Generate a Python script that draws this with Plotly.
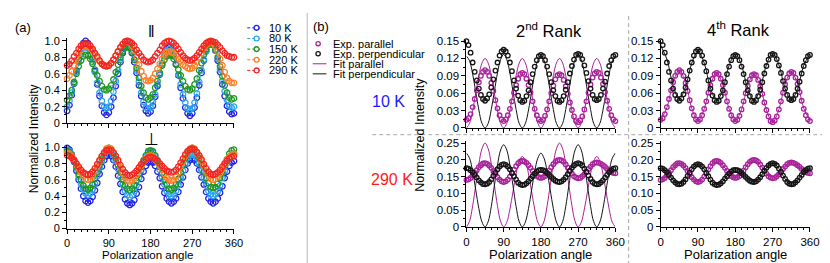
import plotly.graph_objects as go

# ---------------- data ----------------
ANGLES = list(range(0, 361, 5))                 # measured polarization angles (deg)
FIT2_ANGLES = [i * 7.5 for i in range(49)]       # sampling of the 2nd-rank fit curves
FIT4_ANGLES = list(range(0, 361, 15))            # sampling of the 4th-rank fit curves
ANGLE_TICKS = [0, 90, 180, 270, 360]

TEMPS = ["10 K", "80 K", "150 K", "220 K", "290 K"]

# panel (a), parallel configuration
A_PAR_10K = [0.15,0.22,0.34,0.48,0.64,0.78,0.90,0.97,1.00, 0.97,0.89,0.78,0.63,0.47,0.33,0.21,0.13,0.10,
             0.13,0.20,0.31,0.45,0.60,0.74,0.85,0.92,0.95, 0.92,0.85,0.74,0.61,0.46,0.33,0.22,0.15,0.12,
             0.14,0.21,0.32,0.45,0.59,0.72,0.83,0.90,0.92, 0.89,0.82,0.71,0.58,0.43,0.30,0.19,0.12,0.09,
             0.12,0.19,0.31,0.46,0.61,0.76,0.88,0.95,0.98, 0.95,0.88,0.76,0.62,0.47,0.33,0.21,0.14,0.11, 0.12]
A_PAR_80K = [0.20,0.27,0.37,0.49,0.62,0.74,0.84,0.91,0.93, 0.91,0.84,0.74,0.62,0.49,0.37,0.27,0.20,0.18,
             0.20,0.27,0.38,0.51,0.64,0.77,0.88,0.95,0.97, 0.95,0.88,0.77,0.64,0.50,0.37,0.26,0.19,0.17,
             0.19,0.26,0.35,0.47,0.60,0.72,0.81,0.88,0.90, 0.88,0.81,0.72,0.59,0.47,0.35,0.25,0.18,0.16,
             0.18,0.25,0.36,0.50,0.64,0.77,0.87,0.95,0.97, 0.95,0.88,0.78,0.65,0.51,0.39,0.28,0.21,0.19, 0.20]
A_PAR_150K = [0.28,0.33,0.40,0.50,0.60,0.69,0.76,0.81,0.83, 0.82,0.78,0.72,0.65,0.58,0.51,0.45,0.41,0.40,
              0.42,0.46,0.53,0.62,0.71,0.80,0.87,0.91,0.93, 0.91,0.86,0.77,0.67,0.55,0.45,0.37,0.31,0.29,
              0.31,0.35,0.43,0.51,0.61,0.70,0.77,0.81,0.83, 0.82,0.78,0.72,0.65,0.58,0.51,0.45,0.41,0.40,
              0.42,0.47,0.54,0.64,0.73,0.83,0.90,0.95,0.97, 0.95,0.89,0.80,0.69,0.57,0.46,0.37,0.31,0.29, 0.30]
A_PAR_220K = [0.54,0.58,0.63,0.70,0.77,0.84,0.89,0.93,0.94, 0.93,0.91,0.88,0.84,0.79,0.75,0.72,0.70,0.69,
              0.70,0.73,0.77,0.82,0.87,0.92,0.96,0.99,1.00, 0.98,0.94,0.88,0.80,0.71,0.63,0.57,0.52,0.51,
              0.52,0.55,0.60,0.66,0.72,0.78,0.83,0.86,0.87, 0.86,0.85,0.82,0.78,0.75,0.71,0.69,0.67,0.66,
              0.67,0.70,0.74,0.80,0.85,0.91,0.95,0.98,0.99, 0.97,0.93,0.87,0.78,0.70,0.62,0.55,0.51,0.49, 0.49]
A_PAR_290K = [0.70,0.72,0.76,0.81,0.85,0.90,0.94,0.96,0.97, 0.96,0.94,0.90,0.85,0.81,0.76,0.72,0.70,0.69,
              0.70,0.73,0.77,0.82,0.87,0.92,0.96,0.99,1.00, 0.99,0.97,0.94,0.89,0.85,0.81,0.77,0.75,0.74,
              0.75,0.77,0.81,0.85,0.89,0.94,0.97,0.99,1.00, 0.99,0.97,0.94,0.90,0.86,0.82,0.79,0.77,0.76,
              0.77,0.79,0.82,0.86,0.90,0.94,0.97,0.99,1.00, 0.99,0.98,0.95,0.92,0.88,0.85,0.82,0.81,0.80, 0.80]

# panel (a), perpendicular configuration
A_PERP_10K = [0.99, 0.97,0.91,0.82,0.71,0.60,0.49,0.40,0.34,0.32, 0.34,0.39,0.47,0.56,0.67,0.76,0.84,0.89,0.91,
              0.89,0.84,0.76,0.65,0.55,0.45,0.36,0.31,0.29, 0.31,0.35,0.43,0.51,0.61,0.70,0.77,0.81,0.83,
              0.81,0.77,0.70,0.62,0.52,0.44,0.37,0.33,0.31, 0.33,0.37,0.45,0.54,0.63,0.72,0.80,0.84,0.86,
              0.84,0.80,0.72,0.63,0.54,0.45,0.37,0.33,0.31, 0.33,0.37,0.44,0.52,0.62,0.70,0.77,0.81,0.83]
A_PERP_80K = [0.97, 0.95,0.90,0.83,0.74,0.64,0.55,0.48,0.43,0.41, 0.43,0.48,0.55,0.64,0.74,0.83,0.90,0.95,0.97,
              0.95,0.90,0.83,0.73,0.63,0.54,0.46,0.41,0.39, 0.41,0.46,0.53,0.62,0.72,0.81,0.88,0.93,0.95,
              0.93,0.89,0.81,0.72,0.63,0.54,0.46,0.42,0.40, 0.42,0.46,0.53,0.62,0.71,0.80,0.87,0.91,0.93,
              0.91,0.87,0.80,0.71,0.62,0.53,0.46,0.42,0.40, 0.42,0.46,0.53,0.62,0.71,0.80,0.87,0.91,0.93]
A_PERP_150K = [0.95, 0.94,0.90,0.83,0.76,0.67,0.60,0.53,0.49,0.48, 0.50,0.54,0.61,0.69,0.78,0.86,0.93,0.97,0.99,
               0.97,0.93,0.86,0.78,0.69,0.60,0.53,0.49,0.47, 0.49,0.53,0.59,0.67,0.76,0.84,0.90,0.95,0.96,
               0.95,0.90,0.84,0.76,0.68,0.60,0.54,0.49,0.48, 0.50,0.54,0.61,0.69,0.78,0.86,0.93,0.97,0.99,
               0.97,0.93,0.87,0.79,0.70,0.62,0.56,0.51,0.50, 0.51,0.55,0.62,0.69,0.78,0.85,0.92,0.96,0.97]
A_PERP_220K = [0.93, 0.92,0.89,0.85,0.79,0.74,0.68,0.64,0.61,0.60, 0.61,0.65,0.70,0.76,0.83,0.89,0.94,0.98,0.99,
               0.98,0.94,0.89,0.82,0.75,0.68,0.63,0.59,0.58, 0.59,0.62,0.66,0.71,0.77,0.82,0.86,0.89,0.90,
               0.89,0.86,0.82,0.77,0.72,0.67,0.63,0.60,0.59, 0.60,0.64,0.69,0.76,0.82,0.89,0.94,0.98,0.99,
               0.98,0.94,0.89,0.83,0.76,0.70,0.65,0.61,0.60, 0.61,0.64,0.68,0.73,0.79,0.84,0.88,0.91,0.92]
A_PERP_290K = [0.90, 0.89,0.87,0.84,0.80,0.76,0.72,0.69,0.67,0.66, 0.67,0.70,0.74,0.79,0.84,0.89,0.93,0.96,0.97,
               0.96,0.93,0.89,0.84,0.78,0.73,0.69,0.66,0.65, 0.66,0.68,0.71,0.75,0.79,0.82,0.85,0.87,0.88,
               0.87,0.86,0.83,0.80,0.77,0.74,0.71,0.70,0.69, 0.70,0.72,0.76,0.81,0.86,0.91,0.95,0.97,0.98,
               0.97,0.94,0.90,0.85,0.79,0.74,0.70,0.67,0.66, 0.67,0.69,0.72,0.76,0.80,0.83,0.86,0.88,0.89]

# panel (b) experimental data
B_PAR_10K = [0.014, 0.017,0.024,0.036,0.050,0.065,0.079,0.090,0.097,0.100, 0.097,0.090,0.078,0.064,0.048,0.034,0.022,0.015,0.012,
             0.015,0.022,0.033,0.046,0.061,0.074,0.085,0.093,0.095, 0.093,0.085,0.074,0.061,0.046,0.033,0.022,0.015,0.012,
             0.014,0.021,0.032,0.046,0.060,0.073,0.084,0.091,0.093, 0.091,0.083,0.072,0.059,0.044,0.031,0.020,0.012,0.010,
             0.013,0.020,0.032,0.046,0.061,0.075,0.087,0.094,0.097, 0.095,0.087,0.076,0.062,0.047,0.033,0.022,0.015,0.012]
B_PERP_10K = [0.150, 0.143,0.130,0.113,0.097,0.082,0.068,0.057,0.050,0.047, 0.051,0.058,0.070,0.084,0.099,0.113,0.125,0.132,0.135,
              0.132,0.125,0.113,0.098,0.082,0.068,0.056,0.048,0.045, 0.047,0.055,0.065,0.079,0.093,0.106,0.117,0.124,0.126,
              0.124,0.117,0.106,0.093,0.079,0.065,0.055,0.047,0.045, 0.048,0.055,0.066,0.079,0.094,0.107,0.118,0.126,0.128,
              0.126,0.119,0.108,0.095,0.081,0.068,0.057,0.050,0.048, 0.050,0.057,0.068,0.080,0.094,0.107,0.117,0.124,0.126]
B_PAR_290K = [0.140, 0.142,0.146,0.153,0.161,0.169,0.178,0.184,0.189,0.190, 0.188,0.183,0.176,0.167,0.157,0.148,0.141,0.136,0.134,
              0.136,0.141,0.150,0.160,0.171,0.181,0.190,0.195,0.197, 0.195,0.191,0.184,0.176,0.167,0.159,0.152,0.148,0.146,
              0.148,0.152,0.160,0.168,0.178,0.187,0.194,0.198,0.200, 0.198,0.194,0.186,0.177,0.168,0.159,0.151,0.147,0.145,
              0.146,0.151,0.157,0.164,0.173,0.180,0.187,0.191,0.192, 0.191,0.188,0.184,0.179,0.173,0.168,0.164,0.161,0.160]
B_PERP_290K = [0.175, 0.174,0.169,0.163,0.155,0.147,0.139,0.133,0.128,0.127, 0.129,0.134,0.142,0.152,0.162,0.172,0.180,0.185,0.187,
               0.185,0.180,0.172,0.161,0.151,0.141,0.132,0.127,0.125, 0.126,0.130,0.136,0.144,0.151,0.159,0.165,0.169,0.170,
               0.169,0.166,0.161,0.155,0.149,0.143,0.138,0.135,0.134, 0.136,0.141,0.148,0.157,0.167,0.176,0.183,0.188,0.190,
               0.188,0.183,0.174,0.164,0.153,0.143,0.134,0.129,0.127, 0.128,0.133,0.139,0.147,0.155,0.163,0.169,0.174,0.175]

# panel (b) 2nd-rank fit curves
FIT2_PAR_10K = [0.000,0.008,0.030,0.060,0.090,0.112,0.120,0.112,0.090,0.060,0.030,0.008,
                0.000,0.008,0.030,0.060,0.090,0.112,0.120,0.112,0.090,0.060,0.030,0.008,
                0.000,0.008,0.030,0.060,0.090,0.112,0.120,0.112,0.090,0.060,0.030,0.008,
                0.000,0.008,0.030,0.060,0.090,0.112,0.120,0.112,0.090,0.060,0.030,0.008, 0.000]
FIT2_PERP_10K = [0.124,0.116,0.093,0.062,0.031,0.008,0.000,0.008,0.032,0.063,0.095,0.118,
                 0.127,0.118,0.095,0.063,0.032,0.008,0.000,0.008,0.031,0.063,0.094,0.117,
                 0.125,0.117,0.094,0.063,0.032,0.008,0.000,0.008,0.032,0.063,0.095,0.118,
                 0.127,0.118,0.095,0.063,0.032,0.008,0.000,0.008,0.031,0.062,0.093,0.116, 0.124]
FIT2_PAR_290K = [0.000,0.017,0.063,0.125,0.188,0.233,0.250,0.233,0.188,0.125,0.063,0.017,
                 0.000,0.014,0.053,0.105,0.158,0.196,0.210,0.196,0.158,0.105,0.053,0.014,
                 0.000,0.017,0.063,0.125,0.188,0.233,0.250,0.233,0.188,0.125,0.063,0.017,
                 0.000,0.014,0.053,0.105,0.158,0.196,0.210,0.196,0.158,0.105,0.053,0.014, 0.000]
FIT2_PERP_290K = [0.220,0.205,0.165,0.110,0.055,0.015,0.000,0.016,0.061,0.123,0.184,0.229,
                  0.245,0.229,0.184,0.123,0.061,0.016,0.000,0.015,0.055,0.110,0.165,0.205,
                  0.220,0.205,0.165,0.110,0.055,0.015,0.000,0.016,0.061,0.123,0.184,0.229,
                  0.245,0.229,0.184,0.123,0.061,0.016,0.000,0.015,0.055,0.110,0.165,0.205, 0.220]

# panel (b) 4th-rank fit curves
FIT4_PAR_10K = [0.013,0.035,0.078,0.100,0.078,0.034,0.012,0.033,0.074,0.095,0.074,0.033,0.012,
                0.032,0.073,0.093,0.072,0.031,0.010,0.032,0.075,0.097,0.076,0.034,0.013]
FIT4_PERP_10K = [0.142,0.119,0.073,0.050,0.071,0.112,0.133,0.112,0.069,0.047,0.067,0.108,0.128,
                 0.108,0.067,0.047,0.068,0.109,0.129,0.109,0.068,0.048,0.068,0.108,0.128]
FIT4_PAR_290K = [0.140,0.153,0.178,0.190,0.176,0.148,0.134,0.150,0.181,0.197,0.184,0.159,0.146,
                 0.160,0.187,0.200,0.186,0.159,0.145,0.157,0.180,0.192,0.184,0.168,0.160]
FIT4_PERP_290K = [0.176,0.164,0.140,0.128,0.143,0.172,0.187,0.172,0.141,0.126,0.137,0.159,0.170,
                  0.161,0.143,0.134,0.148,0.176,0.190,0.174,0.143,0.127,0.139,0.163,0.175]

A_PAR = [A_PAR_10K, A_PAR_80K, A_PAR_150K, A_PAR_220K, A_PAR_290K]
A_PERP = [A_PERP_10K, A_PERP_80K, A_PERP_150K, A_PERP_220K, A_PERP_290K]

# ---------------- styling ----------------
W, H = 830, 263
FONT = "Liberation Sans, Arial, Helvetica, sans-serif"
T_COLORS = ["#1f22e6", "#2aa6ee", "#1f961f", "#ff7e26", "#f42323"]
MAG = "#a8219a"
BLK = "#141414"


def px(x):
    return x / W


def py(y):
    return 1 - y / H


fig = go.Figure()

# panel (a)
for vals, name, col in zip(A_PAR, TEMPS, T_COLORS):
    fig.add_trace(go.Scatter(x=ANGLES, y=vals, name=name, mode="lines+markers", xaxis="x", yaxis="y",
                             line=dict(color=col, width=0.8, dash="dash"),
                             marker=dict(symbol="circle-open", size=5.5, color=col, line=dict(width=1.3)),
                             cliponaxis=False, showlegend=False))
for vals, name, col in zip(A_PERP, TEMPS, T_COLORS):
    fig.add_trace(go.Scatter(x=ANGLES, y=vals, name=name, mode="lines+markers", xaxis="x2", yaxis="y2",
                             line=dict(color=col, width=0.8, dash="dash"),
                             marker=dict(symbol="circle-open", size=5.5, color=col, line=dict(width=1.3)),
                             cliponaxis=False, showlegend=False))

# panel (b)
panels = [
    ("x3", "y3", FIT2_ANGLES, FIT2_PAR_10K, FIT2_PERP_10K, B_PAR_10K, B_PERP_10K),
    ("x4", "y4", FIT2_ANGLES, FIT2_PAR_290K, FIT2_PERP_290K, B_PAR_290K, B_PERP_290K),
    ("x5", "y5", FIT4_ANGLES, FIT4_PAR_10K, FIT4_PERP_10K, B_PAR_10K, B_PERP_10K),
    ("x6", "y6", FIT4_ANGLES, FIT4_PAR_290K, FIT4_PERP_290K, B_PAR_290K, B_PERP_290K),
]
for xa, ya, fx, fpar, fperp, dpar, dperp in panels:
    fig.add_trace(go.Scatter(x=fx, y=fpar, mode="lines", xaxis=xa, yaxis=ya, name="Fit parallel",
                             line=dict(color=MAG, width=1, shape="spline"), cliponaxis=False, showlegend=False))
    fig.add_trace(go.Scatter(x=fx, y=fperp, mode="lines", xaxis=xa, yaxis=ya, name="Fit perpendicular",
                             line=dict(color=BLK, width=1, shape="spline"), cliponaxis=False, showlegend=False))
    fig.add_trace(go.Scatter(x=ANGLES, y=dpar, mode="markers", xaxis=xa, yaxis=ya, name="Exp. parallel",
                             marker=dict(symbol="circle-open", size=4.5, color=MAG, line=dict(width=1.3)),
                             cliponaxis=False, showlegend=False))
    fig.add_trace(go.Scatter(x=ANGLES, y=dperp, mode="markers", xaxis=xa, yaxis=ya, name="Exp. perpendicular",
                             marker=dict(symbol="circle-open", size=4.5, color=BLK, line=dict(width=1.3)),
                             cliponaxis=False, showlegend=False))


def xaxis(domain, anchor, labels, size):
    return dict(domain=domain, anchor=anchor, range=[0, 360], tickmode="array", tickvals=ANGLE_TICKS,
                ticktext=[str(t) for t in ANGLE_TICKS], showticklabels=labels, ticks="outside", ticklen=4,
                tickwidth=1, tickcolor="black", showline=True, linecolor="black", linewidth=1, showgrid=False,
                zeroline=False, tickfont=dict(family=FONT, size=size, color="black"),
                minor=dict(tickmode="array", tickvals=list(range(0, 361, 15)), ticks="outside", ticklen=2,
                           tickwidth=1, tickcolor="black", showgrid=False))


def yaxis(domain, anchor, rng, tickvals, ticktext, minor_vals, size):
    return dict(domain=domain, anchor=anchor, range=rng, tickmode="array", tickvals=tickvals, ticktext=ticktext,
                ticks="outside", ticklen=4, tickwidth=1, tickcolor="black", showline=True, linecolor="black",
                linewidth=1, showgrid=False, zeroline=False, tickfont=dict(family=FONT, size=size, color="black"),
                minor=dict(tickmode="array", tickvals=minor_vals, ticks="outside", ticklen=2, tickwidth=1,
                           tickcolor="black", showgrid=False))


A_YT = [0, 0.2, 0.4, 0.6, 0.8, 1.0]
A_YL = ["0", "0.2", "0.4", "0.6", "0.8", "1.0"]
A_YM = [i / 10 for i in range(11)]
B_TOP_T = [0, 0.03, 0.06, 0.09, 0.12, 0.15]
B_TOP_L = ["0", "0.03", "0.06", "0.09", "0.12", "0.15"]
B_TOP_M = [i * 0.015 for i in range(11)]
B_BOT_T = [0, 0.05, 0.10, 0.15, 0.20, 0.25]
B_BOT_L = ["0", "0.05", "0.10", "0.15", "0.20", "0.25"]
B_BOT_M = [i * 0.025 for i in range(11)]

xa_dom = [px(57), px(226.5)]
x2_dom = [px(462.7), px(614)]
x4_dom = [px(660), px(811.7)]
a_top = [py(115), py(115 - 86 * 1.03)]
a_bot = [py(225), py(225 - 85 * 1.03)]
b_top = [py(120), py(120 - 604.7 * 0.152)]
b_bot = [py(223.3), py(223.3 - 350.4 * 0.255)]

fig.update_layout(
    width=W, height=H, autosize=False, margin=dict(l=0, r=0, t=0, b=0),
    paper_bgcolor="white", plot_bgcolor="white", showlegend=False,
    font=dict(family=FONT, color="black"),
    xaxis=xaxis(xa_dom, "y", False, 11),
    yaxis=yaxis(a_top, "x", [0, 1.03], A_YT, A_YL, A_YM, 11),
    xaxis2=xaxis(xa_dom, "y2", True, 11),
    yaxis2=yaxis(a_bot, "x2", [0, 1.03], A_YT, A_YL, A_YM, 11),
    xaxis3=xaxis(x2_dom, "y3", False, 11.5),
    yaxis3=yaxis(b_top, "x3", [0, 0.152], B_TOP_T, B_TOP_L, B_TOP_M, 11.5),
    xaxis4=xaxis(x2_dom, "y4", True, 11.5),
    yaxis4=yaxis(b_bot, "x4", [0, 0.255], B_BOT_T, B_BOT_L, B_BOT_M, 11.5),
    xaxis5=xaxis(x4_dom, "y5", False, 11.5),
    yaxis5=yaxis(b_top, "x5", [0, 0.152], B_TOP_T, B_TOP_L, B_TOP_M, 11.5),
    xaxis6=xaxis(x4_dom, "y6", True, 11.5),
    yaxis6=yaxis(b_bot, "x6", [0, 0.255], B_BOT_T, B_BOT_L, B_BOT_M, 11.5),
)

ann = []


def text(x, y, s, size, color="black", xanchor="center", angle=0):
    ann.append(dict(x=px(x), y=py(y), xref="paper", yref="paper", text=s, showarrow=False, xanchor=xanchor,
                    yanchor="middle", textangle=angle, borderpad=0,
                    font=dict(family=FONT, size=size, color=color)))


text(3, 15, "(a)", 13, xanchor="left")
text(306, 14.5, "(b)", 13, xanchor="left")
text(143, 19, "‖", 16)
text(142.5, 132, "⊥", 17)
text(23, 131, "Normalized Intensity", 12, angle=-90)
text(416, 126.5, "Normalized Intensity", 12.5, angle=-90)
text(139, 252.5, "Polarization angle", 11.5)
text(538.4, 252, "Polarization angle", 13)
text(736, 252, "Polarization angle", 13)
text(547, 18, "2<sup>nd</sup> Rank", 16.5)
text(739, 17, "4<sup>th</sup> Rank", 16.5)
text(383, 92.5, "10 K", 16, color="#1a1aff")
text(387, 174, "290 K", 16, color="#ff1a1a")

shapes = []
# panel (a) legend
for i, (name, col) in enumerate(zip(TEMPS, T_COLORS)):
    yy = 15.5 + 11.1 * i
    shapes.append(dict(type="line", xref="paper", yref="paper", x0=px(240), x1=px(255), y0=py(yy), y1=py(yy),
                       line=dict(color=col, width=1, dash="3px,2px")))
    shapes.append(dict(type="circle", xref="paper", yref="paper", x0=px(247), x1=px(252), y0=py(yy + 2.5),
                       y1=py(yy - 2.5), line=dict(color=col, width=1.3), fillcolor="white"))
    text(261, yy, name, 11, xanchor="left")

# panel (b) legend
LEG_B = [("Exp. parallel", MAG, "marker", 32), ("Exp. perpendicular", BLK, "marker", 42.5),
         ("Fit parallel", MAG, "line", 53), ("Fit perpendicular", BLK, "line", 63.5)]
for name, col, kind, yy in LEG_B:
    if kind == "marker":
        shapes.append(dict(type="circle", xref="paper", yref="paper", x0=px(309.8), x1=px(314.2),
                           y0=py(yy + 2.2), y1=py(yy - 2.2), line=dict(color=col, width=1.3)))
    else:
        shapes.append(dict(type="line", xref="paper", yref="paper", x0=px(306.5), x1=px(320.5), y0=py(yy),
                           y1=py(yy), line=dict(color=col, width=1)))
    text(326, yy, name, 11, xanchor="left")

# separators
shapes.append(dict(type="line", xref="paper", yref="paper", x0=px(301), x1=px(301), y0=0, y1=1,
                   line=dict(color="#cfcfcf", width=1.5)))
shapes.append(dict(type="line", xref="paper", yref="paper", x0=px(627.5), x1=px(627.5), y0=0, y1=1,
                   line=dict(color="#a8a8a8", width=1, dash="4px,3px")))
shapes.append(dict(type="line", xref="paper", yref="paper", x0=px(367), x1=1, y0=py(127), y1=py(127),
                   line=dict(color="#a8a8a8", width=1, dash="4px,3px")))

fig.update_layout(annotations=ann, shapes=shapes)
fig.write_html("out.html")
